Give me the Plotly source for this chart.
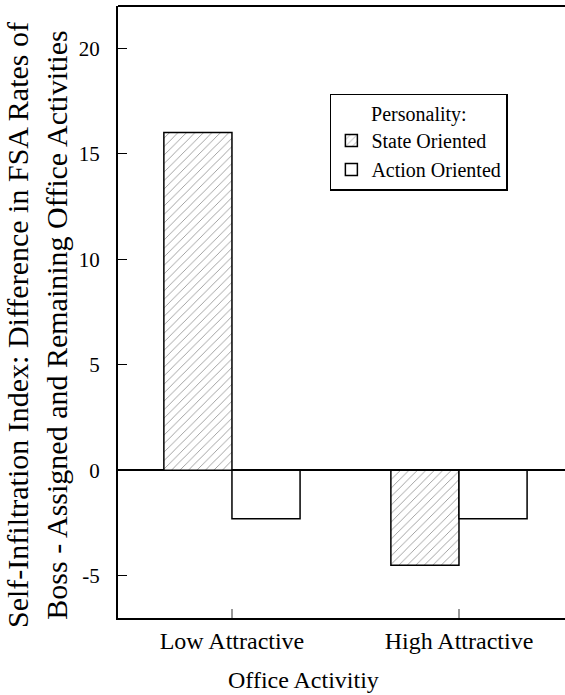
import plotly.graph_objects as go

# Office activity categories and self-infiltration index per personality type
categories = ["Low Attractive", "High Attractive"]
state_oriented = [16.0, -4.5]
action_oriented = [-2.3, -2.3]
y_ticks = [-5, 0, 5, 10, 15, 20]
y_tick_text = ["-5", "0", "5", "10", "15", "20"]

y_title = ("Self-Infiltration Index: Difference in FSA Rates of<br>"
           "Boss - Assigned and Remaining Office Activities")
x_title = "Office Activitiy"

FONT = "Liberation Serif, Times New Roman, serif"

fig = go.Figure()
fig.add_trace(go.Bar(
    x=categories, y=state_oriented, name="State Oriented",
    marker=dict(color="white",
                line=dict(color="black", width=1.5),
                pattern=dict(shape="/", fgcolor="#333", bgcolor="white",
                             size=6, solidity=0.15)),
))
fig.add_trace(go.Bar(
    x=categories, y=action_oriented, name="Action Oriented",
    marker=dict(color="white", line=dict(color="black", width=1.5)),
))

fig.update_layout(
    width=565, height=695,
    margin=dict(l=118, r=0, t=6, b=77, autoexpand=False),
    paper_bgcolor="white", plot_bgcolor="white",
    font=dict(family=FONT, color="black", size=18),
    barmode="group", bargap=0.4, bargroupgap=0,
    showlegend=True,
    legend=dict(
        x=0.474, y=0.857, xanchor="left", yanchor="top",
        bordercolor="black", borderwidth=1.5, bgcolor="white",
        font=dict(family=FONT, size=20),
        title=dict(text="Personality:", side="top center",
                   font=dict(family=FONT, size=20)),
        itemwidth=30, tracegroupgap=0,
    ),
)

fig.update_xaxes(
    type="category", range=[-0.502, 1.467],
    showline=True, linecolor="black", linewidth=2,
    ticks="inside", ticklen=9, tickcolor="#999", tickwidth=1.5,
    tickfont=dict(family=FONT, size=24), showgrid=False,
    automargin=False,
)
fig.update_yaxes(
    range=[-7, 22], tickvals=y_ticks, ticktext=y_tick_text,
    showline=True, linecolor="black", linewidth=2,
    ticks="inside", ticklen=9, tickcolor="black", tickwidth=1,
    tickfont=dict(family=FONT, size=21), showgrid=False,
    ticklabelstandoff=12, automargin=False,
    zeroline=True, zerolinecolor="black", zerolinewidth=2,
)

# axis titles
fig.add_annotation(text=y_title, textangle=-90, showarrow=False,
                   xref="paper", yref="paper", x=0, y=0.5,
                   xanchor="center", yanchor="middle",
                   xshift=-81, yshift=-13,
                   font=dict(family=FONT, size=30))
fig.add_annotation(text=x_title, showarrow=False,
                   xref="paper", yref="paper", x=0.415, y=0,
                   yanchor="top", yshift=-47,
                   font=dict(family=FONT, size=24))

# top frame edge (no right edge on this figure)
fig.add_shape(type="line", xref="paper", yref="paper",
              x0=0, x1=1, y0=1, y1=1,
              line=dict(color="black", width=2))

fig.write_html("out.html")
